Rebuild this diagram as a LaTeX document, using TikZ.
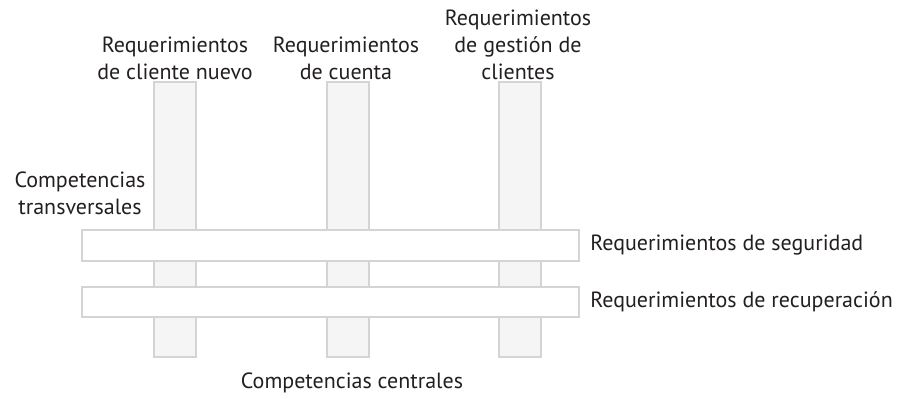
\documentclass[tikz,border=0pt]{standalone}
\usepackage{fontspec}
\setmainfont{PT Sans}
\definecolor{barline}{HTML}{D4D4D4}
\definecolor{barfill}{HTML}{F5F5F5}
\definecolor{txt}{HTML}{231F20}
\begin{document}
\begin{tikzpicture}[x=0.75pt,y=-0.75pt,
  vbar/.style={draw=barline,fill=barfill,line width=1.6pt},
  hbar/.style={draw=barline,fill=white,line width=1.6pt},
  lbl/.style={font=\fontsize{16.5pt}{20.25pt}\selectfont,text=txt,inner sep=0pt,align=center}]
\useasboundingbox (0,0) rectangle (908,399);
\path[vbar] (154,82) rectangle (196,357) coordinate (v1);
\path[vbar] (327,82) rectangle (369,357) coordinate (v2);
\path[vbar] (499,82) rectangle (541,357) coordinate (v3);
\path[hbar] (82,230) rectangle (579,261) coordinate (h1);
\path[hbar] (82,287) rectangle (579,317) coordinate (h2);
\node[lbl] (t1) at (175,58) {Requerimientos\\de cliente nuevo};
\node[lbl] (t2) at (346,58) {Requerimientos\\de cuenta};
\node[lbl] (t3) at (518,45) {Requerimientos\\de gestión de\\clientes};
\node[lbl] (t4) at (80,193) {Competencias\\transversales};
\node[lbl,anchor=west] (t5) at (590,245) {Requerimientos de seguridad};
\node[lbl,anchor=west] (t6) at (590,302) {Requerimientos de recuperación};
\node[lbl] (t7) at (352,383) {Competencias centrales};
\end{tikzpicture}
\end{document}
